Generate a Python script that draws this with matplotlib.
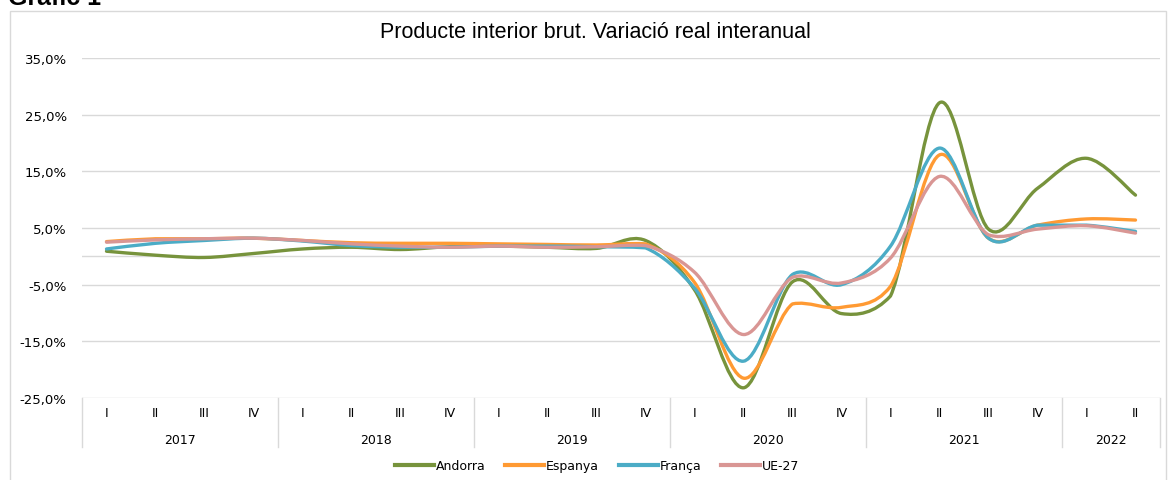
import numpy as np
import matplotlib
matplotlib.use("Agg")
import matplotlib.pyplot as plt
from matplotlib.path import Path
from matplotlib.patches import PathPatch, Rectangle
from matplotlib.lines import Line2D
import matplotlib.transforms as mtransforms

# Data (year-on-year real GDP growth, %)
years = ["2017", "2018", "2019", "2020", "2021", "2022"]
quarters = ["I", "II", "III", "IV"] * 5 + ["I", "II"]

andorra = [0.9, 0.2, -0.2, 0.5, 1.3, 1.6, 1.2, 1.7, 1.8, 1.6, 1.4, 2.8,
           -5.9, -23.2, -4.5, -10.1, -7.0, 27.1, 4.8, 12.0, 17.3, 10.8]
espanya = [2.6, 3.1, 3.1, 3.2, 2.8, 2.4, 2.3, 2.3, 2.2, 2.1, 2.0, 2.2,
           -4.6, -21.5, -8.4, -9.0, -5.3, 17.9, 3.2, 5.5, 6.6, 6.4]
franca = [1.3, 2.3, 2.8, 3.2, 2.7, 1.9, 1.6, 1.6, 1.8, 1.8, 1.7, 1.5,
          -5.6, -18.5, -3.2, -5.0, 1.8, 19.1, 3.2, 5.5, 5.5, 4.4]
ue27 = [2.5, 2.9, 3.1, 3.2, 2.8, 2.2, 1.8, 1.6, 1.8, 1.6, 1.7, 1.9,
        -2.8, -13.8, -3.7, -4.7, -0.3, 14.1, 3.8, 4.8, 5.4, 4.1]

series = [("Andorra", andorra, "#77933C"),
          ("Espanya", espanya, "#FF9A33"),
          ("França", franca, "#4BACC6"),
          ("UE-27", ue27, "#D99694")]

W, H = 1168, 481
fig = plt.figure(figsize=(W / 100, H / 100), dpi=100)

# chart box and cut-off heading
fig.add_artist(Rectangle((9.5 / W, -0.02), (1165.5 - 9.5) / W, 1.02 - 11.5 / H,
                         transform=fig.transFigure, fill=False,
                         edgecolor="#d9d9d9", linewidth=1))
fig.text(8 / W, 1 - 5 / H, "Gràfic 1", family="Liberation Sans",
         fontweight="bold", fontsize=18, va="baseline", ha="left")
fig.text(595 / W, 1 - 32 / H, "Producte interior brut. Variació real interanual",
         family="Liberation Sans", fontsize=15.5, ha="center", va="center")

ax = fig.add_axes([82 / W, 1 - 399 / H, 1078 / W, 340 / H])
for s in ax.spines.values():
    s.set_visible(False)

x = np.arange(len(quarters))


def smooth_path(xs, ys):
    # Bezier curve through the points (Excel-like smoothed line),
    # handles kept within each segment's rise to avoid big overshoots
    pts = np.column_stack([xs, ys]).astype(float)
    n = len(pts)
    verts = [pts[0]]
    codes = [Path.MOVETO]
    for i in range(n - 1):
        p0 = pts[i - 1] if i > 0 else pts[i]
        p1 = pts[i]
        p2 = pts[i + 1]
        p3 = pts[i + 2] if i + 2 < n else pts[i + 1]
        d1 = (p2 - p0) / 6
        d2 = (p3 - p1) / 6
        lim = abs(p2[1] - p1[1])
        d1[1] = np.clip(d1[1], -lim, lim)
        d2[1] = np.clip(d2[1], -lim, lim)
        verts += [p1 + d1, p2 - d2, p2]
        codes += [Path.CURVE4] * 3
    return Path(verts, codes)


for name, vals, col in series:
    ax.add_patch(PathPatch(smooth_path(x, vals), fill=False, edgecolor=col,
                           linewidth=2.4, capstyle="round", joinstyle="round",
                           zorder=3))

ax.set_xlim(-0.5, len(quarters) - 0.5)
ax.set_ylim(-25, 35)
yt = np.arange(-25, 36, 10)
ax.set_yticks(yt)
ax.set_yticklabels([f"{v:.1f}%".replace(".", ",") for v in yt],
                   family="DejaVu Sans", fontsize=9.5)
ax.tick_params(axis="y", length=0, pad=11)
for v in list(yt) + [0]:
    ax.axhline(v, color="#d9d9d9", linewidth=1, zorder=1)
ax.set_xticks([])

# two-level category axis
trans = mtransforms.blended_transform_factory(ax.transData, ax.transAxes)
for i, q in enumerate(quarters):
    ax.text(i, -15 / 340, q, transform=trans, ha="center", va="center",
            family="DejaVu Sans", fontsize=9)
for k, yr in enumerate(years):
    start = 4 * k
    end = min(4 * k + 4, len(quarters))
    ax.text((start + end - 1) / 2, -42 / 340, yr, transform=trans,
            ha="center", va="center", family="DejaVu Sans", fontsize=9)
for b in [-0.5, 3.5, 7.5, 11.5, 15.5, 19.5, 21.5]:
    ax.plot([b, b], [0, -49 / 340], transform=trans, color="#d9d9d9",
            linewidth=1, clip_on=False)

handles = [Line2D([], [], color=c, linewidth=3) for _, _, c in series]
fig.legend(handles, [n for n, _, _ in series], loc="center",
           bbox_to_anchor=(597 / W, 1 - 467 / H), ncol=4, frameon=False,
           prop={"family": "DejaVu Sans", "size": 9}, handlelength=3.1,
           handletextpad=0.15, columnspacing=1.6)

fig.savefig("out.png", dpi=100)
